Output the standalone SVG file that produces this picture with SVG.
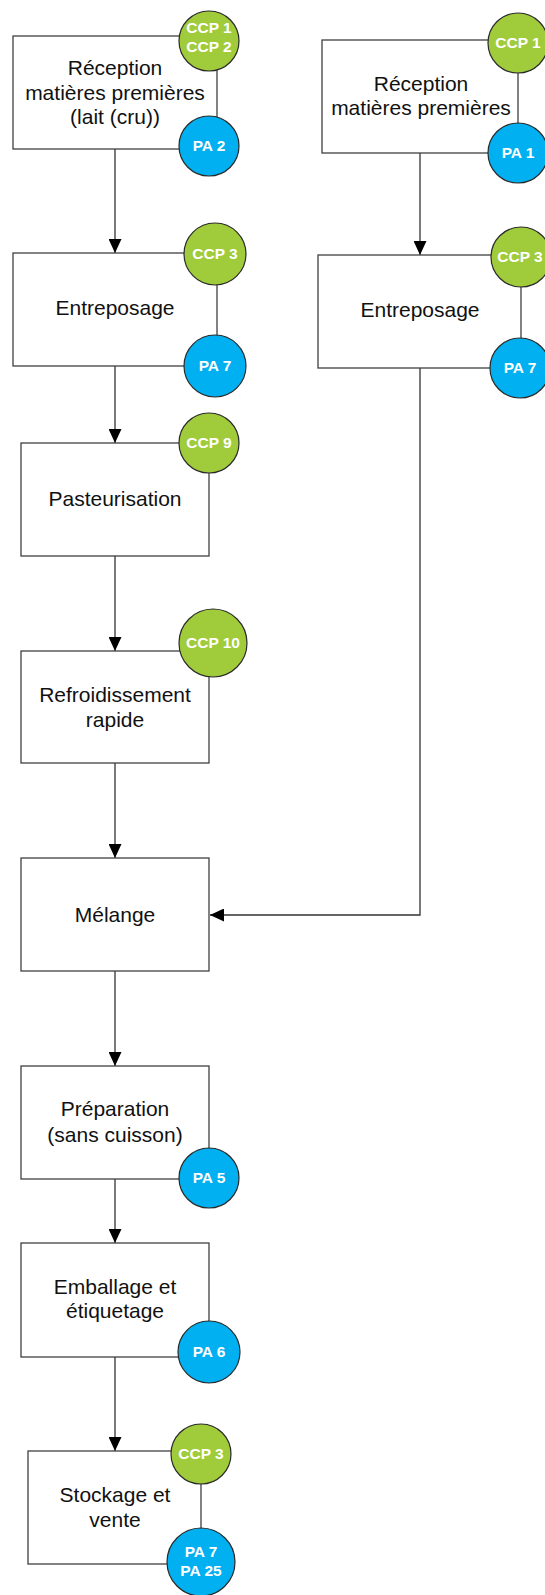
<svg xmlns="http://www.w3.org/2000/svg" width="545" height="1595" viewBox="0 0 545 1595">
<style>
.box{fill:#fff;stroke:#404040;stroke-width:1.3}
.lbl{font-family:"Liberation Sans",Arial,sans-serif;font-size:21px;fill:#111;text-anchor:middle}
.ccp{fill:#A0CC3C;stroke:#2a2a2a;stroke-width:1.2}
.pa{fill:#00B0F0;stroke:#2a2a2a;stroke-width:1.2}
.ct{font-family:"Liberation Sans",Arial,sans-serif;font-size:15.5px;font-weight:bold;fill:#fff;text-anchor:middle}
.con{fill:none;stroke:#333;stroke-width:1.3}
</style>
<defs>
<marker id="ah" markerUnits="userSpaceOnUse" markerWidth="14" markerHeight="13" refX="14" refY="6.5" orient="auto">
<path d="M0,0 L14,6.5 L0,13 z" fill="#000"/>
</marker>
</defs>
<rect width="545" height="1595" fill="#fff"/>
<g id="connectors">
<path class="con" d="M115,149 V253" marker-end="url(#ah)"/>
<path class="con" d="M115,366 V443" marker-end="url(#ah)"/>
<path class="con" d="M115,556 V651" marker-end="url(#ah)"/>
<path class="con" d="M115,763 V858" marker-end="url(#ah)"/>
<path class="con" d="M115,971 V1066" marker-end="url(#ah)"/>
<path class="con" d="M115,1179 V1243" marker-end="url(#ah)"/>
<path class="con" d="M115,1357 V1451" marker-end="url(#ah)"/>
<path class="con" d="M420,153 V255" marker-end="url(#ah)"/>
<path class="con" d="M420,368 V915 H210" marker-end="url(#ah)"/>
</g>
<g id="reception1">
<rect class="box" x="13" y="36" width="204" height="113"/>
<text class="lbl" x="115" y="75">Réception</text>
<text class="lbl" x="115" y="100">matières premières</text>
<text class="lbl" x="115" y="124">(lait (cru))</text>
<circle class="ccp" cx="209" cy="41" r="30"/>
<text class="ct" x="209" y="33">CCP 1</text>
<text class="ct" x="209" y="52">CCP 2</text>
<circle class="pa" cx="209" cy="146" r="30"/>
<text class="ct" x="209" y="151">PA 2</text>
</g>
<g id="reception2">
<rect class="box" x="322" y="40" width="196" height="113"/>
<text class="lbl" x="421" y="91">Réception</text>
<text class="lbl" x="421" y="115">matières premières</text>
<circle class="ccp" cx="518" cy="43" r="30"/>
<text class="ct" x="518" y="48">CCP 1</text>
<circle class="pa" cx="518" cy="153" r="30"/>
<text class="ct" x="518" y="158">PA 1</text>
</g>
<g id="entreposage1">
<rect class="box" x="13" y="253" width="204" height="113"/>
<text class="lbl" x="115" y="315">Entreposage</text>
<circle class="ccp" cx="215" cy="254" r="31"/>
<text class="ct" x="215" y="259">CCP 3</text>
<circle class="pa" cx="215" cy="366" r="31"/>
<text class="ct" x="215" y="371">PA 7</text>
</g>
<g id="entreposage2">
<rect class="box" x="318" y="255" width="203" height="113"/>
<text class="lbl" x="420" y="317">Entreposage</text>
<circle class="ccp" cx="521" cy="257" r="30"/>
<text class="ct" x="520" y="262">CCP 3</text>
<circle class="pa" cx="520" cy="368" r="30"/>
<text class="ct" x="520" y="373">PA 7</text>
</g>
<g id="pasteurisation">
<rect class="box" x="21" y="443" width="188" height="113"/>
<text class="lbl" x="115" y="506">Pasteurisation</text>
<circle class="ccp" cx="209" cy="443" r="30"/>
<text class="ct" x="209" y="448">CCP 9</text>
</g>
<g id="refroidissement">
<rect class="box" x="21" y="651" width="188" height="112"/>
<text class="lbl" x="115" y="702">Refroidissement</text>
<text class="lbl" x="115" y="727">rapide</text>
<circle class="ccp" cx="213" cy="643" r="34"/>
<text class="ct" x="213" y="648">CCP 10</text>
</g>
<g id="melange">
<rect class="box" x="21" y="858" width="188" height="113"/>
<text class="lbl" x="115" y="922">Mélange</text>
</g>
<g id="preparation">
<rect class="box" x="21" y="1066" width="188" height="113"/>
<text class="lbl" x="115" y="1116">Préparation</text>
<text class="lbl" x="115" y="1142">(sans cuisson)</text>
<circle class="pa" cx="209" cy="1178" r="30"/>
<text class="ct" x="209" y="1183">PA 5</text>
</g>
<g id="emballage">
<rect class="box" x="21" y="1243" width="188" height="114"/>
<text class="lbl" x="115" y="1294">Emballage et</text>
<text class="lbl" x="115" y="1318">étiquetage</text>
<circle class="pa" cx="209" cy="1352" r="31"/>
<text class="ct" x="209" y="1357">PA 6</text>
</g>
<g id="stockage">
<rect class="box" x="28" y="1451" width="173" height="113"/>
<text class="lbl" x="115" y="1502">Stockage et</text>
<text class="lbl" x="115" y="1527">vente</text>
<circle class="ccp" cx="201" cy="1454" r="30"/>
<text class="ct" x="201" y="1459">CCP 3</text>
<circle class="pa" cx="201" cy="1562" r="34"/>
<text class="ct" x="201" y="1557">PA 7</text>
<text class="ct" x="201" y="1576">PA 25</text>
</g>
</svg>
